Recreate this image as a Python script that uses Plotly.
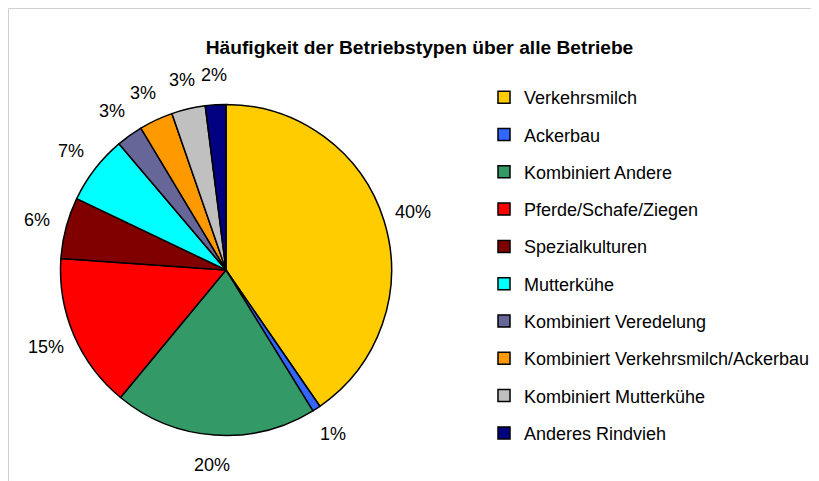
import math
import plotly.graph_objects as go

categories = ["Verkehrsmilch", "Ackerbau", "Kombiniert Andere", "Pferde/Schafe/Ziegen",
              "Spezialkulturen", "Mutterkühe", "Kombiniert Veredelung",
              "Kombiniert Verkehrsmilch/Ackerbau", "Kombiniert Mutterkühe", "Anderes Rindvieh"]
values = [40.4, 0.8, 19.8, 15.1, 6.0, 6.7, 2.6, 3.3, 3.3, 2.0]
colors = ["#FFCC00", "#3366FF", "#339966", "#FF0000", "#800000",
          "#00FFFF", "#666699", "#FF9900", "#C0C0C0", "#000080"]
title_text = "Häufigkeit der Betriebstypen über alle Betriebe"

W, H = 819, 481
OFF = 8  # page body margin offset of the figure
FONT = "Liberation Sans, Arial, sans-serif"

# pie geometry (pixels, figure coordinates)
cx, cy, r = 226 - OFF, 270 - OFF, 165.5
label_r = r + 30

fig = go.Figure()
fig.add_trace(go.Pie(
    labels=categories, values=values, sort=False, direction="clockwise", rotation=0,
    marker=dict(colors=colors, line=dict(color="black", width=1.5)),
    textinfo="none",
    domain=dict(x=[(cx - r) / W, (cx + r) / W], y=[(H - cy - r) / H, (H - cy + r) / H]),
    showlegend=False, hoverinfo="label+percent",
))

for name, col in zip(categories, colors):
    fig.add_trace(go.Scatter(
        x=[None], y=[None], mode="markers", name=name, legendgroup=name,
        marker=dict(symbol="square", size=12, color=col, line=dict(color="black", width=1.5)),
        hoverinfo="skip",
    ))

# percentage labels placed outside each slice, at the slice's mid angle
total = sum(values)
annotations = []
cum = 0.0
for v in values:
    mid = (cum + v / 2) / total * 2 * math.pi
    cum += v
    px = cx + label_r * math.sin(mid)
    py = cy - label_r * math.cos(mid)
    annotations.append(dict(
        x=px / W, y=1 - py / H, xref="paper", yref="paper",
        text=f"{round(v / total * 100):d}%", showarrow=False,
        xanchor="center", yanchor="middle",
        font=dict(family=FONT, size=18, color="black"),
    ))

fig.update_layout(
    width=W, height=H,
    margin=dict(l=0, r=0, t=0, b=0, autoexpand=False),
    paper_bgcolor="white", plot_bgcolor="white",
    xaxis=dict(visible=False), yaxis=dict(visible=False),
    title=dict(text="<b>" + title_text + "</b>", x=(419.5 - OFF) / W, xanchor="center",
               y=1 - (47 - OFF) / H, yanchor="middle",
               font=dict(family=FONT, size=19.2, color="black")),
    legend=dict(x=(484 - OFF) / W, xanchor="left", y=1 - (79 - OFF) / H, yanchor="top",
                font=dict(family=FONT, size=18, color="black"),
                tracegroupgap=10.9, bgcolor="rgba(0,0,0,0)"),
    annotations=annotations,
    shapes=[
        dict(type="line", xref="paper", yref="paper", x0=0.5 / W, x1=1, y0=1 - 0.5 / H, y1=1 - 0.5 / H,
             line=dict(color="#D0D0D0", width=1)),
        dict(type="line", xref="paper", yref="paper", x0=0.5 / W, x1=0.5 / W, y0=0, y1=1 - 0.5 / H,
             line=dict(color="#D0D0D0", width=1)),
    ],
)

fig.write_html("out.html")
